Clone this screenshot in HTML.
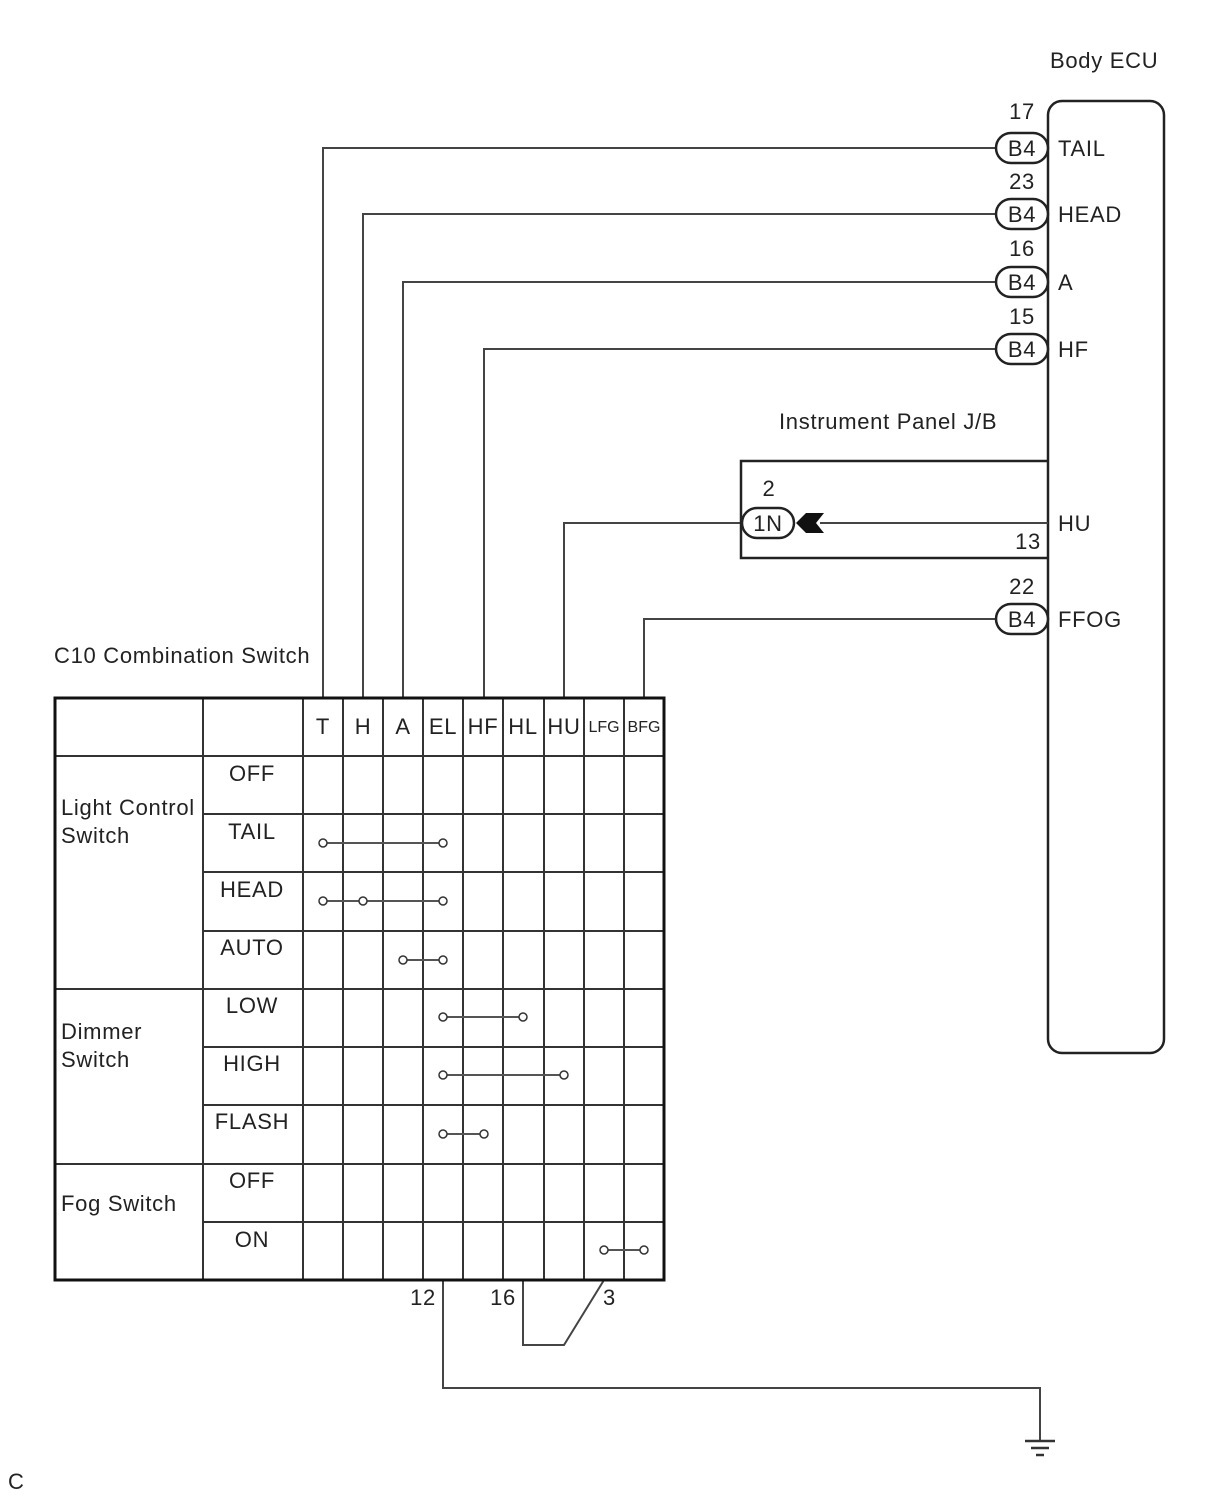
<!DOCTYPE html><html><head><style>body{margin:0;background:#fff}svg{display:block}text{font-family:"Liberation Sans",sans-serif;fill:#222;letter-spacing:0.7px}</style></head><body>
<svg width="1210" height="1498" viewBox="0 0 1210 1498" xmlns="http://www.w3.org/2000/svg">
<g fill="none" stroke="#444" stroke-width="2">
<rect x="1048" y="101" width="116" height="952" rx="14" stroke="#222" stroke-width="2.5"/>
<polyline points="323,698 323,148 996,148"/>
<polyline points="363,698 363,214 996,214"/>
<polyline points="403,698 403,282 996,282"/>
<polyline points="484,698 484,349 996,349"/>
<polyline points="564,698 564,523 742,523"/>
<polyline points="644,698 644,619 996,619"/>
<line x1="820" y1="523" x2="1048" y2="523"/>
<polyline points="1048,461 741,461 741,558 1048,558" stroke="#222" stroke-width="2.5"/>
<polyline points="443,1280 443,1388 1040,1388 1040,1440"/>
<polyline points="523,1280 523,1345 564,1345 604,1280"/>
</g>
<g stroke="#222" stroke-width="2.5" fill="#fff">
<rect x="996" y="133" width="52" height="30" rx="15"/>
<rect x="996" y="199" width="52" height="30" rx="15"/>
<rect x="996" y="267" width="52" height="30" rx="15"/>
<rect x="996" y="334" width="52" height="30" rx="15"/>
<rect x="996" y="604" width="52" height="30" rx="15"/>
<rect x="742" y="508" width="52" height="30" rx="15"/>
</g>
<path d="M796,523 L806,513 L824,513 L816,523 L824,533 L806,533 Z" fill="#111"/>
<g stroke="#333" stroke-width="2.5"><line x1="1025" y1="1441" x2="1055" y2="1441"/><line x1="1031" y1="1448" x2="1049" y2="1448"/><line x1="1036" y1="1455" x2="1044" y2="1455"/></g>
<g font-size="22">
<text x="1050" y="68">Body ECU</text>
<text x="1022" y="119" text-anchor="middle">17</text><text x="1022" y="156" text-anchor="middle">B4</text><text x="1058" y="156">TAIL</text>
<text x="1022" y="189" text-anchor="middle">23</text><text x="1022" y="222" text-anchor="middle">B4</text><text x="1058" y="222">HEAD</text>
<text x="1022" y="256" text-anchor="middle">16</text><text x="1022" y="290" text-anchor="middle">B4</text><text x="1058" y="290">A</text>
<text x="1022" y="324" text-anchor="middle">15</text><text x="1022" y="357" text-anchor="middle">B4</text><text x="1058" y="357">HF</text>
<text x="779" y="429">Instrument Panel J/B</text>
<text x="769" y="496" text-anchor="middle">2</text><text x="768" y="531" text-anchor="middle">1N</text>
<text x="1058" y="531">HU</text><text x="1041" y="549" text-anchor="end">13</text>
<text x="1022" y="594" text-anchor="middle">22</text><text x="1022" y="627" text-anchor="middle">B4</text><text x="1058" y="627">FFOG</text>
<text x="54" y="663">C10 Combination Switch</text>
<text x="436" y="1305" text-anchor="end">12</text><text x="516" y="1305" text-anchor="end">16</text><text x="603" y="1305">3</text>
<text x="8" y="1489">C</text>
</g>
<g stroke="#333" stroke-width="2" fill="none">
<line x1="303" y1="698" x2="303" y2="1280"/><line x1="343" y1="698" x2="343" y2="1280"/><line x1="383" y1="698" x2="383" y2="1280"/><line x1="423" y1="698" x2="423" y2="1280"/><line x1="463" y1="698" x2="463" y2="1280"/><line x1="503" y1="698" x2="503" y2="1280"/><line x1="544" y1="698" x2="544" y2="1280"/><line x1="584" y1="698" x2="584" y2="1280"/><line x1="624" y1="698" x2="624" y2="1280"/>
<line x1="203" y1="698" x2="203" y2="1280"/>
<line x1="55" y1="756" x2="664" y2="756"/>
<line x1="203" y1="814" x2="664" y2="814"/><line x1="203" y1="872" x2="664" y2="872"/><line x1="203" y1="931" x2="664" y2="931"/>
<line x1="55" y1="989" x2="664" y2="989"/>
<line x1="203" y1="1047" x2="664" y2="1047"/><line x1="203" y1="1105" x2="664" y2="1105"/>
<line x1="55" y1="1164" x2="664" y2="1164"/><line x1="203" y1="1222" x2="664" y2="1222"/>
<rect x="55" y="698" width="609" height="582" stroke="#111" stroke-width="3"/>
</g>
<g stroke="#555" stroke-width="2" fill="none">
<line x1="323" y1="843" x2="443" y2="843"/><line x1="323" y1="901" x2="443" y2="901"/><line x1="403" y1="960" x2="443" y2="960"/><line x1="443" y1="1017" x2="523" y2="1017"/><line x1="443" y1="1075" x2="564" y2="1075"/><line x1="443" y1="1134" x2="484" y2="1134"/><line x1="604" y1="1250" x2="644" y2="1250"/>
</g>
<g stroke="#333" stroke-width="1.5" fill="#fff">
<circle cx="323" cy="843" r="4"/><circle cx="443" cy="843" r="4"/>
<circle cx="323" cy="901" r="4"/><circle cx="363" cy="901" r="4"/><circle cx="443" cy="901" r="4"/>
<circle cx="403" cy="960" r="4"/><circle cx="443" cy="960" r="4"/>
<circle cx="443" cy="1017" r="4"/><circle cx="523" cy="1017" r="4"/>
<circle cx="443" cy="1075" r="4"/><circle cx="564" cy="1075" r="4"/>
<circle cx="443" cy="1134" r="4"/><circle cx="484" cy="1134" r="4"/>
<circle cx="604" cy="1250" r="4"/><circle cx="644" cy="1250" r="4"/>
</g>
<g font-size="22" text-anchor="middle">
<text x="323" y="734">T</text><text x="363" y="734">H</text><text x="403" y="734">A</text><text x="443" y="734">EL</text><text x="483" y="734">HF</text><text x="523" y="734">HL</text><text x="564" y="734">HU</text>
<text x="604" y="732" font-size="16" style="letter-spacing:0">LFG</text><text x="644" y="732" font-size="16" style="letter-spacing:0">BFG</text>
<text x="252" y="781">OFF</text><text x="252" y="839">TAIL</text><text x="252" y="897">HEAD</text><text x="252" y="955">AUTO</text>
<text x="252" y="1013">LOW</text><text x="252" y="1071">HIGH</text><text x="252" y="1129">FLASH</text>
<text x="252" y="1188">OFF</text><text x="252" y="1247">ON</text>
</g>
<g font-size="22">
<text x="61" y="815">Light Control</text><text x="61" y="843">Switch</text>
<text x="61" y="1039">Dimmer</text><text x="61" y="1067">Switch</text>
<text x="61" y="1211">Fog Switch</text>
</g>
</svg>
</body></html>
